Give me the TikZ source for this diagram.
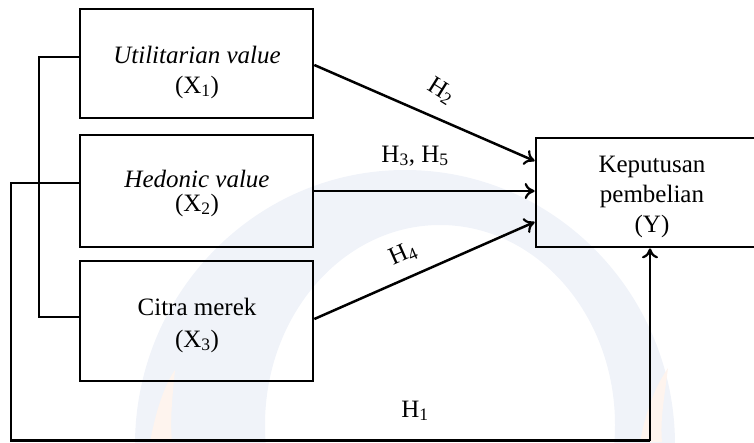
\documentclass[tikz,border=0pt]{standalone}
\usepackage{fontspec}
\setmainfont{Liberation Serif}
\usetikzlibrary{arrows.meta,calc}
\definecolor{wmblue}{RGB}{240,243,249}
\definecolor{wmorange}{RGB}{254,244,238}
\begin{document}
\begin{tikzpicture}[x=1pt,y=-1pt,
  box/.style={draw=black,line width=2.7pt,minimum width=233pt,inner sep=0pt},
  lbl/.style={font=\fontsize{25}{30}\selectfont,inner sep=0pt,anchor=base},
  conn/.style={line width=2.5pt},
  arr/.style={line width=2.5pt,-{To[length=10pt,width=16pt,line width=2.2pt]}}]
\useasboundingbox (0,0) rectangle (754,442);
\clip (0,0) rectangle (754,442);
% faint watermark
\begin{scope}
\fill[wmblue,even odd rule] (405,445) ellipse [x radius=270, y radius=275]
      (440,425) ellipse [x radius=175, y radius=200];
\fill[wmorange] (150,442) .. controls (158,400) and (168,380) .. (175,370) .. controls (172,400) and (170,420) .. (172,442) -- cycle;
\fill[wmorange] (640,442) .. controls (648,400) and (660,380) .. (668,368) .. controls (664,400) and (660,420) .. (662,442) -- cycle;
\end{scope}
% boxes
\node[box,minimum height=109pt] (x1) at (196.5,63.5) {};
\node[box,minimum height=112pt] (x2) at (196.5,191) {};
\node[box,minimum height=120pt] (x3) at (196.5,321) {};
\node[box,minimum width=232pt,minimum height=109pt] (y) at (652,192.5) {};
% texts
\node[lbl] (t1a) at (197,63) {\itshape Utilitarian value};
\node[lbl] (t1b) at (197,93) {(X\textsubscript{1})};
\node[lbl] (t2a) at (197,187) {\itshape Hedonic value};
\node[lbl] (t2b) at (197,211) {(X\textsubscript{2})};
\node[lbl] (t3a) at (197,315) {Citra merek};
\node[lbl] (t3b) at (197,347) {(X\textsubscript{3})};
\node[lbl] (ya) at (652,172) {Keputusan};
\node[lbl] (yb) at (652,202) {pembelian};
\node[lbl] (yc) at (652,232) {(Y)};
% paths
\draw[arr] ($(x1.east)+(0,1.5)$) -- ($(y.west)+(0,-31.5)$);
\draw[arr] (x2.east) -- (x2.east -| y.west);
\draw[arr] ($(x3.east)+(0,-2)$) -- ($(y.west)+(0,29.5)$);
\coordinate (c1) at (39,57);
\coordinate (c2) at (39,317);
\draw[conn] ($(x1.west)+(0,-6.5)$) -- (c1) -- (c2) -- ($(x3.west)+(0,-4)$);
\coordinate (b1) at (11,183);
\coordinate (b2) at (11,440.5);
\coordinate (b3) at (650,440.5);
\draw[conn] ($(x2.west)+(0,-8)$) -- (b1) -- (b2) -- (b3);
\draw[arr] (b3) -- (b3 |- y.south);
% hypothesis labels
\node[font=\fontsize{25}{30}\selectfont,inner sep=0pt,rotate=-32] (h2) at (441,91) {H\textsubscript{2}};
\node[lbl] (h35) at (415,162) {H\textsubscript{3}, H\textsubscript{5}};
\node[font=\fontsize{25}{30}\selectfont,inner sep=0pt,rotate=24] (h4) at (403,254) {H\textsubscript{4}};
\node[lbl] (h1) at (415,417) {H\textsubscript{1}};
\end{tikzpicture}
\end{document}
